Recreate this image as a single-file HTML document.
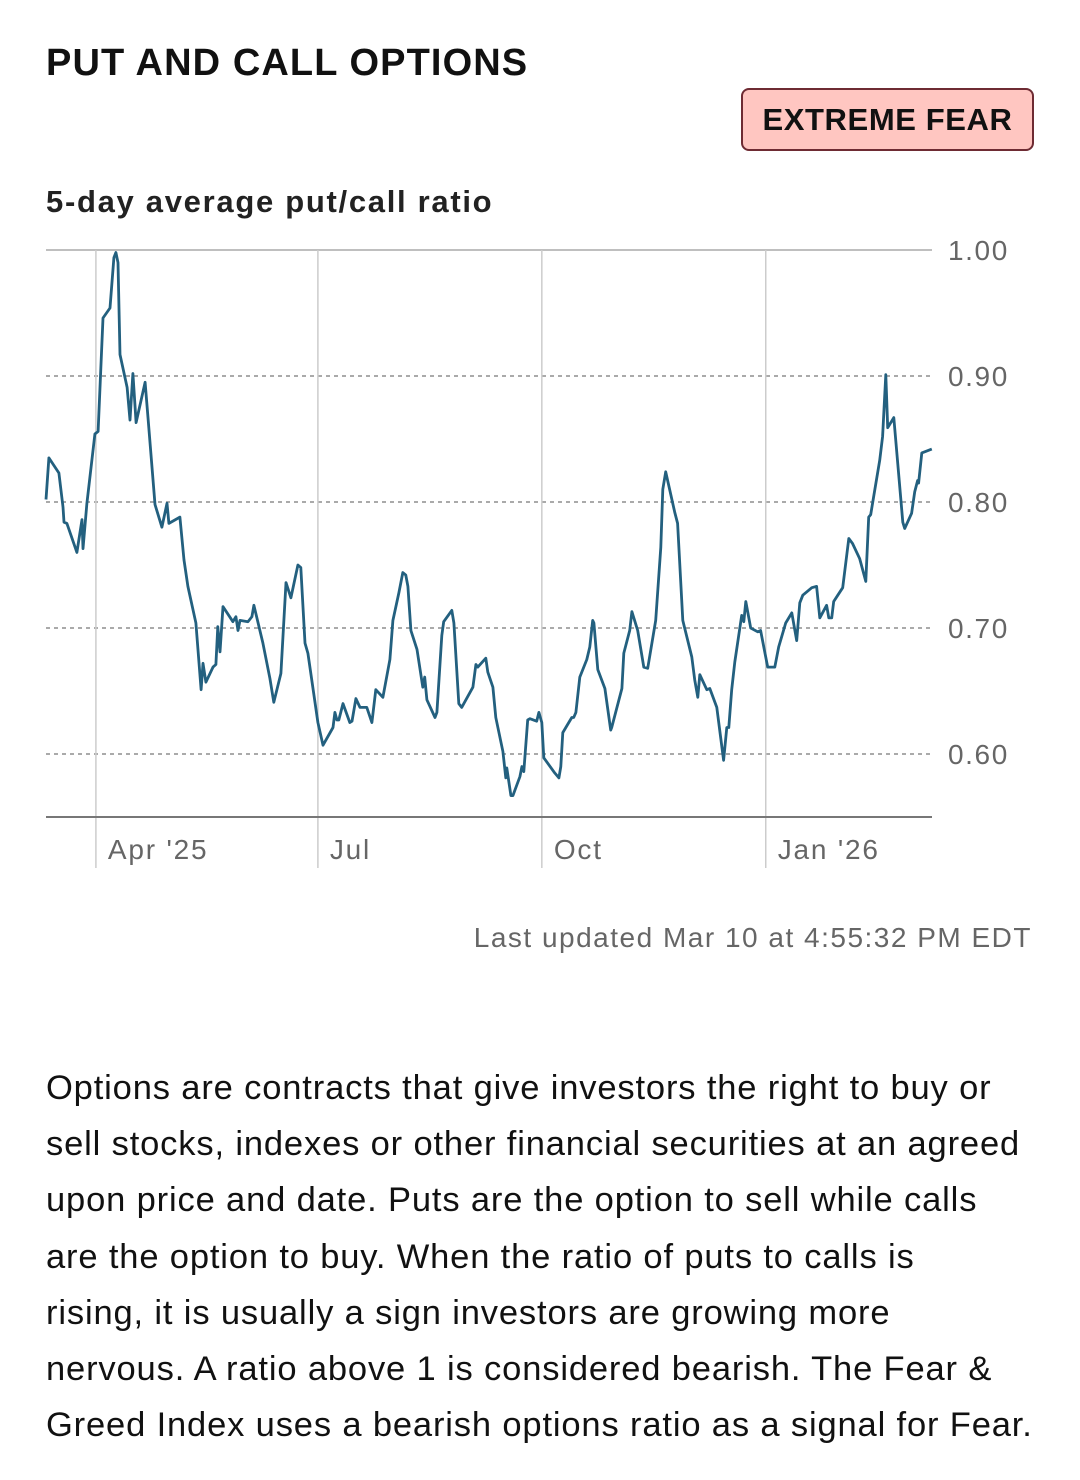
<!DOCTYPE html>
<html><head><meta charset="utf-8">
<style>
html,body{margin:0;padding:0;background:#fff;}
body{width:1080px;height:1480px;position:relative;overflow:hidden;font-family:"Liberation Sans",Arial,sans-serif;color:#111;}
#title{position:absolute;left:46px;top:42px;font-size:38px;font-weight:bold;letter-spacing:1.1px;margin:0;}
#badge{position:absolute;left:741px;top:88px;width:293px;height:63px;background:#ffc6c1;border:2px solid #6e2b33;border-radius:8px;box-sizing:border-box;font-size:31px;font-weight:bold;text-align:center;line-height:59px;color:#111;letter-spacing:0.6px;}
#sub{position:absolute;left:46px;top:184px;font-size:31px;font-weight:bold;color:#222;letter-spacing:1.7px;}
#chart{position:absolute;left:0;top:0;}
#updated{position:absolute;right:48px;top:922px;font-size:28px;color:#666;letter-spacing:1.5px;}
#desc{position:absolute;left:46px;top:1060px;width:1034px;white-space:nowrap;font-size:34.5px;line-height:56.2px;color:#111;margin:0;letter-spacing:0.85px;}
</style></head><body>
<h1 id="title">PUT AND CALL OPTIONS</h1>
<div id="badge">EXTREME FEAR</div>
<div id="sub">5-day average put/call ratio</div>
<svg id="chart" width="1080" height="900"></svg>
<div id="updated">Last updated Mar 10 at 4:55:32 PM EDT</div>
<p id="desc">Options are contracts that give investors the right to buy or<br>sell stocks, indexes or other financial securities at an agreed<br>upon price and date. Puts are the option to sell while calls<br>are the option to buy. When the ratio of puts to calls is<br>rising, it is usually a sign investors are growing more<br>nervous. A ratio above 1 is considered bearish. The Fear &amp;<br>Greed Index uses a bearish options ratio as a signal for Fear.</p>
<script>
const days=[0,1.2,5.3,7,7.4,8.6,12.7,14.8,15.2,16.8,20.1,21.4,23.4,26.3,27.9,28.7,29.6,30.4,33.3,34.5,35.7,37,40.7,41.9,44.8,47.6,49.7,50.5,55,56.7,58.3,61.6,63.7,64.5,65.7,68.6,69.8,70.6,71.5,72.7,76.8,78,78.9,79.7,83,84.6,85.4,89.1,92,93.6,96.5,98.6,100.6,103.5,104.7,106.4,107.6,111.7,113.8,117.9,118.7,119.5,120.3,122,124.8,125.7,127.3,129,131.8,133.9,135.5,138.4,141.3,142.5,145,146.6,147.8,148.7,149.9,152.4,154.8,155.6,156.5,159.8,160.6,162.6,163.4,166.7,167.6,169.6,170.8,175.4,176.6,177.4,180.7,181.5,183.6,184.8,187.7,188.9,189.3,191,191.8,194.7,195.5,196.3,197.9,198.8,201.6,202.5,203.7,204.5,209,210.7,211.5,212.3,214.8,216,216.8,217.7,219.3,222.2,223.4,224.6,225.1,226.7,229.6,232,232.4,236.6,237.4,239.8,240.7,243.1,245.6,247.2,250.5,252.6,253.4,254.6,258.3,259.5,261.6,265.3,266.5,267.8,268.6,271.5,272.7,275.6,276.8,278.4,279.7,280.5,281.7,283,285.8,286.7,287.5,289.5,292.4,293.6,296.5,299.4,301,303.9,306.4,308.4,309.7,310.9,314.6,316.6,317.9,320.7,321.6,322.8,323.6,325.3,327.3,329.8,331.4,334.3,336.8,338,338.8,340,342.5,343.7,345,345.8,348.3,352,352.8,355.6,356.9,358.1,358.5,359.8,363.9];
const ratios=[0.802,0.835,0.823,0.796,0.784,0.783,0.760,0.786,0.763,0.799,0.854,0.856,0.946,0.954,0.994,0.998,0.990,0.917,0.891,0.865,0.902,0.863,0.895,0.867,0.798,0.780,0.799,0.783,0.788,0.754,0.733,0.704,0.651,0.672,0.657,0.669,0.671,0.701,0.681,0.717,0.705,0.709,0.698,0.706,0.705,0.709,0.718,0.688,0.660,0.641,0.664,0.736,0.724,0.750,0.748,0.688,0.680,0.625,0.607,0.621,0.633,0.627,0.627,0.640,0.625,0.626,0.644,0.637,0.637,0.625,0.651,0.645,0.675,0.706,0.728,0.744,0.742,0.733,0.698,0.683,0.653,0.661,0.643,0.629,0.633,0.694,0.705,0.714,0.704,0.640,0.637,0.653,0.671,0.669,0.676,0.665,0.653,0.629,0.602,0.581,0.589,0.567,0.567,0.582,0.590,0.586,0.627,0.628,0.626,0.633,0.625,0.597,0.585,0.581,0.590,0.617,0.625,0.629,0.629,0.633,0.661,0.675,0.685,0.706,0.704,0.667,0.652,0.619,0.621,0.652,0.680,0.698,0.713,0.698,0.669,0.668,0.706,0.764,0.810,0.824,0.792,0.783,0.706,0.677,0.659,0.645,0.663,0.651,0.652,0.637,0.619,0.595,0.621,0.621,0.651,0.673,0.710,0.705,0.721,0.700,0.697,0.698,0.669,0.669,0.685,0.704,0.712,0.690,0.720,0.726,0.732,0.733,0.708,0.718,0.708,0.708,0.721,0.726,0.732,0.771,0.767,0.755,0.737,0.788,0.790,0.804,0.833,0.852,0.901,0.859,0.867,0.784,0.779,0.791,0.808,0.817,0.815,0.839,0.842];
const yTicks=[1.0,0.9,0.8,0.7,0.6];
const yTickLabels=["1.00","0.90","0.80","0.70","0.60"];
const monthDays=[20.5,111.7,203.7,295.7];
const monthLabels=["Apr '25","Jul","Oct","Jan '26"];

const X0=46,X1=932,D0=0,D1=364;
const xs=d=>X0+(d-D0)/(D1-D0)*(X1-X0);
const ys=v=>250+(1-v)*1260;
const svg=document.getElementById('chart');
const NS='http://www.w3.org/2000/svg';
function mk(t,a){const e=document.createElementNS(NS,t);for(const k in a)e.setAttribute(k,a[k]);svg.appendChild(e);return e;}
yTicks.forEach((v,i)=>{
  const l=mk('line',{x1:X0,x2:X1,y1:ys(v),y2:ys(v),stroke:'#aaa','stroke-width':i===0?1.5:2,'stroke-dasharray':i===0?'none':'4 4'});
  
  
  const t=mk('text',{x:948,y:ys(v)+10,'font-size':28,fill:'#666','font-family':'Liberation Sans, sans-serif','letter-spacing':1.6});
  t.textContent=yTickLabels[i];
  
  
});
monthDays.forEach((d,i)=>{
  const l=mk('line',{x1:xs(d),x2:xs(d),y1:250,y2:868,stroke:'#ccc','stroke-width':1.5});
  
  
  const t=mk('text',{x:xs(d)+12,y:859,'font-size':28,fill:'#666','font-family':'Liberation Sans, sans-serif','letter-spacing':1.8});
  t.textContent=monthLabels[i];
  
  
});
const ax=mk('line',{x1:X0,x2:X1,y1:817,y2:817,stroke:'#777','stroke-width':2});


const pts=days.map((d,i)=>xs(d).toFixed(1)+','+ys(ratios[i]).toFixed(1)).join(' ');
const pl=mk('polyline',{points:pts,fill:'none',stroke:'#23607f','stroke-width':2.8,'stroke-linejoin':'round'});


</script>
</body></html>
